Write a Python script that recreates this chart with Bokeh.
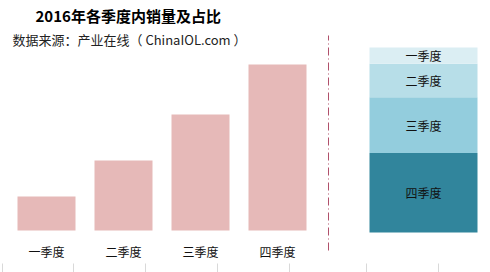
from bokeh.plotting import figure
from bokeh.models import Range1d, Label, ColumnDataSource
from bokeh.core.properties import value
from bokeh.embed import file_html
from bokeh.resources import INLINE

# 2016 domestic sales by quarter (relative units) and their share of the year
quarters = ["一季度", "二季度", "三季度", "四季度"]
sales = [34, 70, 116, 166]

title_text = "2016年各季度内销量及占比"
source_text = "数据来源：产业在线（ ChinaIOL.com ）"

W, H = 490, 272
CJK = "Noto Sans CJK SC"

# horizontal scale: one unit per quarter slot
slot_px = 77.0
first_center_px = 46.0
def x_of(px):
    return (px - first_center_px) / slot_px

# vertical scale for sales: one unit per pixel, baseline 42px above bottom
base_px = 230.0
y_start, y_end = -(H - base_px), base_px

p = figure(width=W, height=H, output_backend="svg", toolbar_location=None,
           x_range=Range1d(x_of(0), x_of(W)), y_range=Range1d(y_start, y_end),
           min_border=0, outline_line_color=None, background_fill_color="white",
           border_fill_color="white")
p.axis.visible = False
p.grid.visible = False

# share scale for the stacked column
stack_top_px, stack_bot_px = 47.0, 232.0
span = stack_bot_px - stack_top_px
p.extra_y_ranges = {"share": Range1d(-(H - stack_bot_px) / span, stack_bot_px / span)}

# quarterly bars
idx = list(range(len(quarters)))
bars = ColumnDataSource(dict(x=idx, top=sales, q=quarters))
p.vbar(x="x", top="top", bottom=0, width=58 / slot_px, source=bars,
       fill_color="#e6b9b8", line_color=None)
p.text(x="x", y=-21, text="q", source=bars, text_align="center",
       text_baseline="middle", text_font=value(CJK), text_font_size="12px",
       text_color="#111111")

# stacked share column: fourth quarter at the bottom
total = float(sum(sales))
shares = [s / total for s in sales]
order = [3, 2, 1, 0]
colors = {0: "#dbeef3", 1: "#b7dee8", 2: "#93cddd", 3: "#31859c"}
bottoms, tops, labs, cols, mids = [], [], [], [], []
acc = 0.0
for i in order:
    bottoms.append(acc)
    tops.append(acc + shares[i])
    mids.append(acc + shares[i] / 2)
    labs.append(quarters[i])
    cols.append(colors[i])
    acc += shares[i]
stack_x = x_of(423)
stack = ColumnDataSource(dict(x=[stack_x] * 4, bottom=bottoms, top=tops,
                              mid=mids, lab=labs, col=cols))
p.vbar(x="x", bottom="bottom", top="top", width=108 / slot_px, source=stack,
       fill_color="col", line_color=None, y_range_name="share")
p.text(x="x", y="mid", text="lab", source=stack, y_range_name="share",
       text_align="center", text_baseline="middle", text_font=value(CJK),
       text_font_size="12px", text_color="#111111")

# dash-dot divider between the two views
div_x = x_of(328)
p.segment(x0=[div_x], x1=[div_x], y0=[base_px - 250], y1=[base_px - 35],
          line_color="#b0506a", line_width=1, line_dash="8 3 1 3")

# faint cell borders along the bottom edge
cell_edges_px = [2, 73, 145, 217, 289, 366, 438]
p.segment(x0=[x_of(v) for v in cell_edges_px], x1=[x_of(v) for v in cell_edges_px],
          y0=[base_px - 263] * 7, y1=[base_px - 272] * 7,
          line_color="#d9d9d9", line_width=1)

p.add_layout(Label(x=35, y=H - 15, x_units="screen", y_units="screen",
                   text=title_text, text_font=CJK, text_font_size="15px",
                   text_font_style="bold", text_baseline="middle",
                   text_color="#000000"))
p.add_layout(Label(x=12, y=H - 39, x_units="screen", y_units="screen",
                   text=source_text, text_font=CJK, text_font_size="13px",
                   text_baseline="middle", text_color="#222222"))

open("out.html", "w").write(file_html(p, INLINE))
